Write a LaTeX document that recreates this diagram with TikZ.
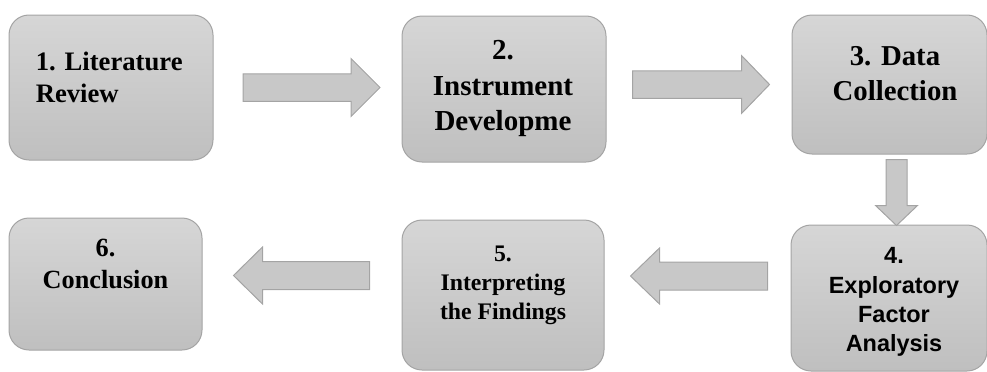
\documentclass[tikz,border=0pt]{standalone}
\usepackage{fontspec}
\setmainfont{Liberation Serif}
\newfontfamily\arialbold{Liberation Sans}

\definecolor{boxtop}{HTML}{D6D6D6}
\definecolor{boxbot}{HTML}{BFBFBF}
\definecolor{rim}{HTML}{A4A4A4}
\definecolor{arrowfill}{HTML}{C8C8C8}

\tikzset{
  stage/.style={draw=rim, line width=0.75pt, rounded corners=15pt,
    top color=boxtop, bottom color=boxbot, inner sep=0pt},
  caption/.style 2 args={inner sep=0pt, align=center,
    font=\fontsize{#1}{#2}\selectfont\bfseries},
  flow/.style={draw=rim, fill=arrowfill, line width=0.75pt},
  % block arrow pointing along +x: half length, half shaft, half head, head length
  pics/blockarrow/.style n args={4}{code={
    \draw[flow] (-#1,-#2) -- ({#1-#4},-#2) -- ({#1-#4},-#3) -- (#1,0)
      -- ({#1-#4},#3) -- ({#1-#4},#2) -- (-#1,#2) -- cycle;
  }},
}

\begin{document}
\begin{tikzpicture}[x=0.75pt, y=-0.75pt]
  \useasboundingbox (0,0) rectangle (987,371);

  % the six stages
  \node[stage, minimum width=153pt, minimum height=108.75pt] (b1) at (111,87.5) {};
  \node[stage, minimum width=153pt, minimum height=109.5pt] (b2) at (504,89) {};
  \node[stage, minimum width=146.25pt, minimum height=104.25pt] (b3) at (889.5,84.5) {};
  \node[stage, minimum width=147pt, minimum height=109.5pt] (b4) at (889,298) {};
  \node[stage, minimum width=151.5pt, minimum height=112.5pt] (b5) at (503,295) {};
  \node[stage, minimum width=144.75pt, minimum height=99pt] (b6) at (105.5,284) {};

  % their texts
  \node[caption={20}{24}, anchor=north west, align=left] (t1) at ([shift={(27,37)}]b1.north west) {1. Literature\\Review};
  \node[caption={21.75}{26.6}, anchor=north] (t2) at ([shift={(-1,25)}]b2.north) {2.\\Instrument\\Developme};
  \node[caption={21.6}{26}, anchor=north] (t3) at ([shift={(5.5,32)}]b3.north) {3. Data\\Collection};
  \node[caption={17.6}{22}, anchor=north, font=\arialbold\fontsize{17.6}{22}\selectfont\bfseries] (t4) at ([shift={(5,23)}]b4.north) {4.\\Exploratory\\Factor\\Analysis};
  \node[caption={17.8}{21.75}, anchor=north] (t5) at ([shift={(0,26)}]b5.north) {5.\\Interpreting\\the Findings};
  \node[caption={19.7}{24}, anchor=north] (t6) at ([shift={(0,21)}]b6.north) {6.\\Conclusion};

  % block arrows between stages
  \coordinate (a12) at ([shift={(98,0)}]b1.east);
  \coordinate (a23) at ([shift={(-90.5,0)}]b3.west);
  \coordinate (a34) at ([shift={(7,38)}]b3.south);
  \coordinate (a45) at ([shift={(-91.5,-22)}]b4.west);
  \coordinate (a56) at ([shift={(99,-8.5)}]b6.east);
  \pic at (a12) {blockarrow={68.5}{13.75}{29}{29}};
  \pic at (a23) {blockarrow={68.5}{13.75}{29}{28}};
  \pic[rotate=-90] at (a34) {blockarrow={33}{10.5}{21}{20}};
  \pic[rotate=180] at (a45) {blockarrow={68.5}{14}{28}{29}};
  \pic[rotate=180] at (a56) {blockarrow={68}{14}{28.5}{29}};
\end{tikzpicture}
\end{document}
